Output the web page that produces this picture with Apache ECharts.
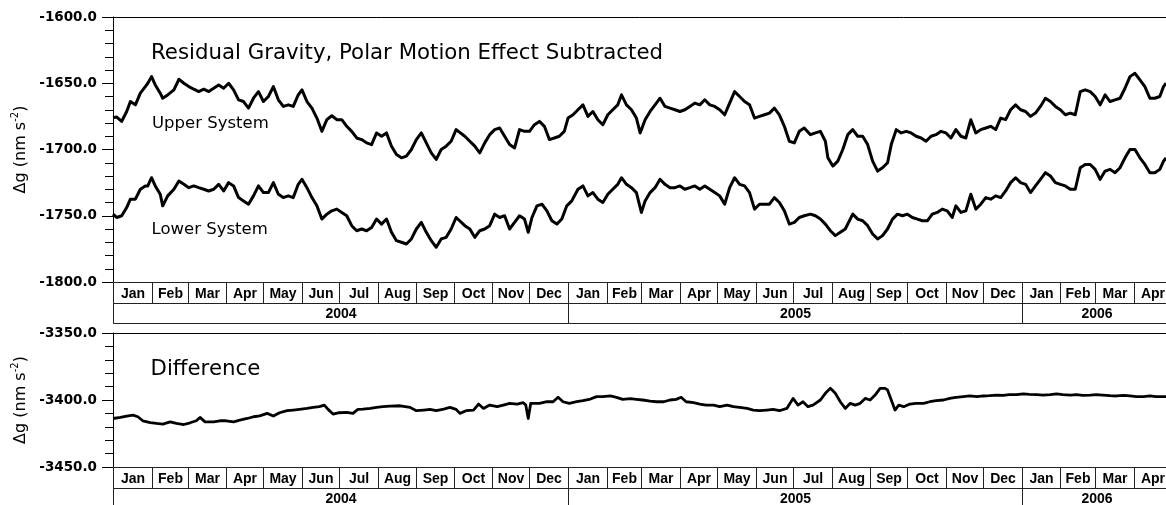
<!DOCTYPE html>
<html>
<head>
<meta charset="utf-8">
<title>Residual Gravity</title>
<script src="https://cdn.jsdelivr.net/npm/echarts@6/dist/echarts.min.js"></script>
<style>
  html, body { margin: 0; padding: 0; background: #fff; }
  #chart { width: 1166px; height: 505px; }
</style>
</head>
<body>
<div id="chart"></div>
<script>
// day offsets from 2004-01-01, values in nm s^-2
const upper = [
  [0,-1676],[3,-1675.5],[7,-1678.8],[11,-1671.3],[14,-1663.8],[18,-1666.3],[22,-1657.5],[26,-1652.5],[28,-1650],[31,-1645],[34,-1651.3],[38,-1657.5],[40,-1661.3],[44,-1658.8],[49,-1655],[53,-1647],[57,-1650],[61,-1652.5],[65,-1654.5],[69,-1656.3],[73,-1654.5],[77,-1656.3],[81,-1653.8],[85,-1651.3],[89,-1653.8],[93,-1650],[97,-1655],[101,-1662.5],[105,-1663.8],[109,-1668.8],[113,-1661.3],[117,-1656.3],[121,-1663.8],[125,-1660],[129,-1652.5],[133,-1662.5],[137,-1667.5],[141,-1666.3],[145,-1667.5],[149,-1658.8],[152,-1655],[156,-1663.8],[160,-1668.8],[164,-1676.3],[168,-1686.3],[172,-1677.5],[176,-1674.5],[180,-1677.5],[184,-1677.5],[188,-1682.5],[192,-1686.3],[196,-1691.3],[200,-1692.5],[204,-1695],[208,-1696.3],[212,-1687.5],[216,-1690],[220,-1687.5],[224,-1697.5],[228,-1703.8],[232,-1706.3],[236,-1705],[240,-1700],[244,-1692.5],[248,-1687.5],[252,-1695],[256,-1702.5],[260,-1707.5],[264,-1700],[268,-1697.5],[272,-1693.8],[276,-1685],
  [283,-1690],[287,-1693.8],[291,-1697.5],[295,-1702.5],[299,-1695],[303,-1688.8],[307,-1685],[311,-1683.8],[315,-1690],[319,-1696.3],[323,-1698.8],[327,-1685],[331,-1686.3],[335,-1686.3],[339,-1681.3],[343,-1678.8],[347,-1682.5],[351,-1692.5],[355,-1691.3],[359,-1690],[363,-1686.3],[366,-1676.3],[370,-1673.8],[374,-1670],[378,-1666.3],[382,-1675],[386,-1671.3],[390,-1677.5],[394,-1681.3],[398,-1673.8],[402,-1670],[406,-1666.3],[409,-1658.8],[413,-1666.3],[417,-1670],[421,-1676.3],[424,-1687.5],[428,-1677.5],[432,-1671.3],[436,-1666.3],[440,-1661.3],[444,-1667.5],[448,-1668.8],[452,-1670],[456,-1671.3],[460,-1670],[464,-1667.5],[468,-1665],[472,-1666.3],[476,-1662.5],[480,-1666.3],[484,-1667.5],[488,-1670],[492,-1673.8],[496,-1665],[500,-1656.3],[504,-1660],[508,-1663.8],[512,-1666.3],[516,-1676.3],[520,-1675],[524,-1673.8],[528,-1672.5],[532,-1668.8],[536,-1673.8],[540,-1682.5],[544,-1693.8],[548,-1695],[552,-1686.3],[556,-1683.8],
  [561,-1688.8],[565,-1687.5],[569,-1686.3],[573,-1693.8],[575,-1706.3],[579,-1712.5],[583,-1708.8],[587,-1700],[591,-1688.8],[595,-1685],[599,-1690],[603,-1690],[607,-1696.3],[611,-1708.8],[615,-1716.3],[619,-1713.8],[623,-1710],[626,-1696.3],[630,-1685],[634,-1687.5],[638,-1686.3],[642,-1687.5],[646,-1690],[650,-1691.3],[654,-1693.8],[658,-1690],[662,-1688.8],[666,-1686.3],[670,-1687.5],[674,-1691.3],[678,-1685],[682,-1690],[686,-1691.3],[690,-1677.5],[694,-1687.5],[698,-1685],[702,-1683.8],[706,-1682.5],[710,-1685],[714,-1676.3],[718,-1677.5],[722,-1670],[726,-1666.3],[730,-1670],[734,-1671.3],[738,-1675],[742,-1672.5],[746,-1667.5],[750,-1661.3],[754,-1663.8],[758,-1667.5],[762,-1670],[766,-1673.8],[770,-1672.5],[774,-1673.8],[778,-1656.3],[782,-1655],[786,-1656.3],[790,-1660],[794,-1666.3],[798,-1658.8],[802,-1663.8],[806,-1662.5],[810,-1661.3],[814,-1653.8],[818,-1645],[822,-1642.5],[826,-1647.5],[830,-1652.5],[834,-1661.3],[838,-1661.3],[842,-1660],[845,-1652.5],[847,-1650]
];

const lower = [
  [0,-1748.8],[3,-1751.3],[7,-1750],[11,-1743.8],[14,-1737.5],[18,-1737.5],[22,-1730],[26,-1727.5],[28,-1727.5],[31,-1721.3],[34,-1727.5],[38,-1733.8],[40,-1742.5],[44,-1735],[49,-1730],[53,-1723.8],[57,-1726.3],[61,-1728.8],[65,-1727.5],[69,-1728.8],[73,-1730],[77,-1731.3],[81,-1730],[85,-1726.3],[89,-1731.3],[93,-1725],[97,-1727.5],[101,-1736.3],[105,-1738.8],[109,-1741.3],[113,-1735],[117,-1727.5],[121,-1732.5],[125,-1732.5],[129,-1725],[133,-1733.8],[137,-1736.3],[141,-1735],[145,-1736.3],[149,-1726.3],[152,-1722.5],[156,-1728.8],[160,-1736.3],[164,-1742.5],[168,-1752.5],[172,-1748.8],[176,-1746.3],[180,-1745],[184,-1747.5],[188,-1750],[192,-1757.5],[196,-1761.3],[200,-1760],[204,-1761.3],[208,-1758.8],[212,-1752.5],[216,-1756.3],[220,-1752.5],[224,-1762.5],[228,-1768.8],[232,-1770],[236,-1771.3],[240,-1767.5],[244,-1760],[248,-1755],[252,-1762.5],[256,-1768.8],[260,-1773.8],[264,-1767.5],[268,-1766.3],[272,-1760],[276,-1751.3],
  [283,-1757.5],[287,-1760],[291,-1766.3],[295,-1761.3],[299,-1760],[303,-1757.5],[307,-1748.8],[311,-1751.3],[315,-1750],[319,-1760],[323,-1755],[327,-1750],[331,-1752.5],[334,-1762.5],[337,-1751.3],[341,-1742.5],[345,-1741.3],[349,-1746.3],[353,-1753.8],[357,-1756.3],[361,-1752.5],[365,-1742.5],[369,-1738.8],[374,-1730],[378,-1727.5],[382,-1735],[386,-1732.5],[390,-1737.5],[394,-1740],[398,-1733.8],[402,-1730],[406,-1726.3],[409,-1721.3],[413,-1726.3],[417,-1728.8],[421,-1732.5],[425,-1747.5],[428,-1738.8],[432,-1732.5],[436,-1728.8],[440,-1722.5],[444,-1726.3],[448,-1728.8],[452,-1728.8],[456,-1727.5],[460,-1730],[464,-1728.8],[468,-1727.5],[472,-1730],[476,-1727.5],[480,-1730],[484,-1732.5],[488,-1735],[492,-1741.3],[496,-1728.8],[500,-1721.3],[504,-1726.3],[508,-1727.5],[512,-1732.5],[516,-1745],[520,-1741.3],[524,-1741.3],[528,-1741.3],[532,-1736.3],[536,-1740],[540,-1746.3],[544,-1756.3],[548,-1755],[552,-1751.3],[556,-1750],
  [561,-1748.8],[565,-1750],[569,-1752.5],[573,-1756.3],[577,-1761.3],[581,-1765],[585,-1762.5],[589,-1760],[593,-1752.5],[595,-1748.8],[599,-1752.5],[603,-1753.8],[607,-1757.5],[611,-1763.8],[615,-1767.5],[619,-1765],[623,-1760],[627,-1752.5],[631,-1748.8],[635,-1750],[639,-1748.8],[643,-1751.3],[647,-1752.5],[651,-1753.8],[655,-1753.8],[659,-1748.8],[663,-1747.5],[667,-1745],[671,-1746.3],[675,-1751.3],[678,-1742.5],[682,-1747.5],[686,-1746.3],[690,-1733.8],[694,-1745],[698,-1741.3],[702,-1736.3],[706,-1737.5],[710,-1735],[714,-1736.3],[718,-1731.3],[722,-1725],[726,-1721.3],[730,-1725],[734,-1726.3],[738,-1732.5],[742,-1727.5],[746,-1722.5],[750,-1717.5],[754,-1720],[758,-1725],[762,-1726.3],[766,-1727.5],[770,-1730],[774,-1730],[778,-1713.8],[782,-1711.3],[786,-1711.3],[790,-1715],[794,-1722.5],[798,-1716.3],[802,-1715],[806,-1717.5],[810,-1713.8],[814,-1706.3],[818,-1700],[822,-1700],[826,-1706.3],[830,-1711.3],[834,-1717.5],[838,-1717.5],[842,-1715],[845,-1708.8],[847,-1706.3]
];

const difference = [
  [0,-3413.8],[6,-3413],[11,-3412],[16,-3411.3],[20,-3412.5],[24,-3415.5],[30,-3416.8],[35,-3417.5],[40,-3418],[46,-3416.3],[51,-3417.5],[57,-3418.3],[62,-3417],[67,-3415.5],[70,-3413],[74,-3416.3],[81,-3416.3],[86,-3415.5],[91,-3415.5],[97,-3416.3],[102,-3415],[108,-3413.8],[113,-3412.5],[118,-3411.8],[124,-3410],[129,-3412],[134,-3409.5],[140,-3408],[145,-3407.5],[150,-3407],[156,-3406.3],[161,-3405.5],[166,-3405],[170,-3403.8],[173,-3407],[177,-3410.5],[182,-3409.5],[188,-3409.3],[193,-3410],[197,-3407],[201,-3406.8],[207,-3406.3],[212,-3405.5],[217,-3405],[223,-3404.5],
  [231,-3404.3],[239,-3405.5],[244,-3408],[250,-3407.5],[255,-3407],[260,-3408],[266,-3406.8],[271,-3405.5],[276,-3407],[279,-3410],[284,-3408],[290,-3407.5],[294,-3403],[298,-3406.3],[303,-3403.8],[309,-3405],[314,-3403.8],[319,-3402.5],[325,-3403],[330,-3402],[332,-3403.8],[334,-3413.8],[336,-3402.5],[343,-3402.5],[349,-3401.3],[354,-3401.3],[358,-3398],[362,-3401.3],[367,-3402.5],[373,-3401.3],[378,-3400.5],[384,-3399.3],[389,-3397.5],[394,-3397.5],[400,-3397],[405,-3398],[410,-3399.5],[416,-3399],[421,-3399.5],[426,-3400],[432,-3400.8],[437,-3401.3],[443,-3401.3],[448,-3400],[453,-3399.5],[457,-3398],[461,-3401.3],[467,-3402],[472,-3403],[477,-3403.8],[483,-3403.8],[488,-3405],[494,-3403.8],[499,-3405],[504,-3405.5],[510,-3406.3],[515,-3407.5],[520,-3408],[526,-3407.5],[531,-3407],[536,-3408],
  [542,-3406.3],[547,-3398.8],[551,-3403.8],[555,-3401.3],[559,-3405],[563,-3403.8],[569,-3400],[573,-3395],[577,-3391.3],[581,-3395],[585,-3401.3],[589,-3406.3],[593,-3402.5],[597,-3403.8],[601,-3402.5],[605,-3398.8],[609,-3400],[613,-3396.3],[617,-3391.3],[621,-3391.3],[623,-3392.5],[626,-3400],[629,-3407.5],[632,-3403.8],[636,-3405],[641,-3403],[646,-3402.5],[652,-3402.5],[657,-3401.3],[662,-3400.5],[668,-3400],[673,-3398.8],[678,-3398],[684,-3397.5],[689,-3397],[695,-3397.5],[700,-3397],[705,-3396.8],[711,-3396.3],[716,-3396.5],[721,-3396],[727,-3396],[732,-3395.5],[737,-3395.8],[743,-3396],[748,-3396.3],[754,-3396],[759,-3395.5],[764,-3396],[770,-3396.3],[775,-3396],[780,-3396.5],[786,-3396.3],[791,-3396],[796,-3396.3],[802,-3396.8],[807,-3397],[813,-3396.5],[818,-3397],[823,-3397.5],[829,-3397.5],[834,-3397],[839,-3397.5],[847,-3397.5]
];

const monthNames = ['Jan', 'Feb', 'Mar', 'Apr', 'May', 'Jun', 'Jul', 'Aug', 'Sep', 'Oct', 'Nov', 'Dec'];
const yearLabels = ['2004', '2005', '2006'];

const DAY = 86400000;
const T0 = Date.UTC(2004, 0, 1);
const T1 = Date.UTC(2006, 4, 1);

// calendar cells: row 1 = months, row 0 = years
const cells = [];
yearLabels.forEach((label, i) => {
  const y = 2004 + i;
  for (let m = 0; m < 12; m++) {
    const s = Date.UTC(y, m, 1);
    if (s >= T1) break;
    cells.push({ start: s, end: Math.min(Date.UTC(y, m + 1, 1), T1), row: 1, label: monthNames[m] });
  }
  cells.push({ start: Date.UTC(y, 0, 1), end: Math.min(Date.UTC(y + 1, 0, 1), T1), row: 0, label: label });
});

const chart = echarts.init(document.getElementById('chart'));

const gridBase = { left: 113, width: 1058, outerBoundsMode: 'none', containLabel: false };

function plotXAxis(gridIndex) {
  return {
    type: 'time', gridIndex, min: T0, max: T1, position: 'top',
    axisLine: { show: true, onZero: false, lineStyle: { color: '#000', width: 1 } },
    axisTick: { show: false }, axisLabel: { show: false }, splitLine: { show: false }
  };
}

function calXAxis(gridIndex) {
  return { type: 'time', gridIndex, min: T0, max: T1, show: false };
}

function valueAxis(gridIndex, min, max) {
  return {
    type: 'value', gridIndex, min, max, interval: 50,
    name: '{a|Δg (nm s}{b|-2}{a|)}',
    nameLocation: 'middle', nameRotate: 90, nameGap: 80,
    nameTextStyle: {
      rich: {
        a: { fontFamily: 'DejaVu Sans', fontSize: 16, color: '#000', lineHeight: 20 },
        b: { fontFamily: 'DejaVu Sans', fontSize: 10, color: '#000', lineHeight: 12, verticalAlign: 'top' }
      }
    },
    axisLine: { show: true, onZero: false, lineStyle: { color: '#000', width: 1 } },
    axisTick: { show: true, inside: false, length: 11, lineStyle: { color: '#000' } },
    minorTick: { show: true, splitNumber: 5, length: 8, lineStyle: { color: '#000' } },
    splitLine: { show: false },
    axisLabel: {
      margin: 16, color: '#000', fontFamily: 'DejaVu Sans', fontWeight: 'bold', fontSize: 13.5,
      formatter: (v) => v.toFixed(1)
    }
  };
}

function calYAxis(gridIndex) {
  return { type: 'value', gridIndex, min: 0, max: 2, show: false };
}

function lineSeries(data, axisIndex, width) {
  return {
    type: 'line', xAxisIndex: axisIndex, yAxisIndex: axisIndex,
    data: data.map((p) => [T0 + p[0] * DAY, p[1]]),
    showSymbol: false, symbol: 'none', silent: true,
    lineStyle: { color: '#000', width: width, join: 'round' }
  };
}

function calendarSeries(axisIndex) {
  return {
    type: 'custom', xAxisIndex: axisIndex, yAxisIndex: axisIndex, silent: true, clip: false,
    encode: { x: [0, 1], y: 2 },
    data: cells.map((c) => [c.start, c.end, c.row]),
    renderItem: function (params, api) {
      const cell = cells[params.dataIndex];
      const a = api.coord([api.value(0), api.value(2) + 1]);
      const b = api.coord([api.value(1), api.value(2)]);
      const x0 = Math.round(a[0]) + 0.5;
      const x1 = Math.round(b[0]) + 0.5;
      const y0 = Math.round(a[1]) + 0.5;
      const y1 = Math.round(b[1]) + 0.5;
      return {
        type: 'group',
        children: [
          {
            type: 'rect',
            shape: { x: x0, y: y0, width: x1 - x0, height: y1 - y0 },
            style: { fill: 'none', stroke: '#222', lineWidth: 1 }
          },
          {
            type: 'text',
            style: {
              text: cell.label, x: (x0 + x1) / 2, y: (y0 + y1) / 2 + 1,
              align: 'center', verticalAlign: 'middle',
              font: 'bold 14px "Liberation Sans"', fill: '#000'
            }
          }
        ]
      };
    }
  };
}

function label(text, x, y, size) {
  return {
    type: 'text', x: x, y: y, silent: true,
    style: { text: text, font: size + 'px "DejaVu Sans"', fill: '#000', verticalAlign: 'middle' }
  };
}

const option = {
  animation: false,
  backgroundColor: '#fff',
  grid: [
    Object.assign({ top: 17, height: 265 }, gridBase),
    Object.assign({ top: 282, height: 41.3 }, gridBase),
    Object.assign({ top: 333, height: 134 }, gridBase),
    Object.assign({ top: 467, height: 41.3 }, gridBase)
  ],
  xAxis: [plotXAxis(0), calXAxis(1), plotXAxis(2), calXAxis(3)],
  yAxis: [valueAxis(0, -1800, -1600), calYAxis(1), valueAxis(2, -3450, -3350), calYAxis(3)],
  series: [
    lineSeries(upper, 0, 3),
    lineSeries(lower, 0, 3),
    calendarSeries(1),
    lineSeries(difference, 2, 2.8),
    calendarSeries(3)
  ],
  graphic: [
    label('Residual Gravity, Polar Motion Effect Subtracted', 151, 53, 21.3),
    label('Upper System', 152, 124, 16.5),
    label('Lower System', 151.5, 230, 16.5),
    label('Difference', 150.5, 369, 21.3)
  ]
};

chart.setOption(option);
</script>
</body>
</html>
